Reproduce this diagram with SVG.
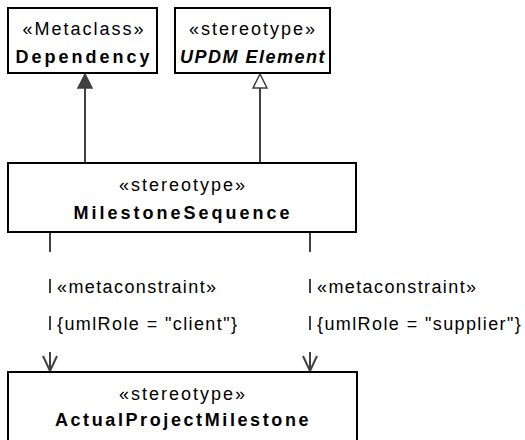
<svg xmlns="http://www.w3.org/2000/svg" width="525" height="440" viewBox="0 0 525 440">
  <style>
    .box { fill: #ffffff; stroke: #000000; stroke-width: 2; }
    .st { font-family: "Liberation Sans", Arial, sans-serif; font-size: 18px; letter-spacing: 2px; fill: #000000; text-anchor: middle; }
    .nm { font-family: "Liberation Sans", Arial, sans-serif; font-size: 18px; font-weight: bold; letter-spacing: 3px; fill: #000000; text-anchor: middle; }
    .it { font-style: italic; letter-spacing: 1.5px; }
    .long { letter-spacing: 2.6px; }
    .lbl { font-family: "Liberation Sans", Arial, sans-serif; font-size: 18px; letter-spacing: 1.4px; fill: #000000; }
    .ln { stroke: #404040; stroke-width: 2; fill: none; }
    .solid { fill: #404040; stroke: #404040; stroke-width: 1.5; }
    .hollow { fill: #ffffff; stroke: #404040; stroke-width: 1.5; }
  </style>

  <!-- Connectors -->
  <g id="connectors">
    <!-- MilestoneSequence to Dependency (extension, filled head) -->
    <line class="ln" x1="85" y1="88" x2="85" y2="163"/>
    <polygon class="solid" points="85,74 78,88 92,88"/>
    <!-- MilestoneSequence to UPDM Element (generalization, hollow head) -->
    <line class="ln" x1="260" y1="88" x2="260" y2="163"/>
    <polygon class="hollow" points="260,74 253,88 267,88"/>

    <!-- client dependency -->
    <line class="ln" x1="50" y1="232" x2="50" y2="252"/>
    <line class="ln" x1="50" y1="279" x2="50" y2="293"/>
    <line class="ln" x1="50" y1="316" x2="50" y2="330"/>
    <line class="ln" x1="50" y1="352" x2="50" y2="372"/>
    <polyline class="ln" points="43,356 50,371 57,356" stroke-width="1.6"/>
    <text class="lbl" x="57" y="293">«metaconstraint»</text>
    <text class="lbl" x="57" y="330">{umlRole = "client"}</text>

    <!-- supplier dependency -->
    <line class="ln" x1="310" y1="232" x2="310" y2="252"/>
    <line class="ln" x1="310" y1="279" x2="310" y2="293"/>
    <line class="ln" x1="310" y1="316" x2="310" y2="330"/>
    <line class="ln" x1="310" y1="352" x2="310" y2="372"/>
    <polyline class="ln" points="303,356 310,371 317,356" stroke-width="1.6"/>
    <text class="lbl" x="317" y="293">«metaconstraint»</text>
    <text class="lbl" x="317" y="330">{umlRole = "supplier"}</text>
  </g>

  <!-- Nodes -->
  <g id="dependency">
    <rect class="box" x="8" y="8" width="149" height="65"/>
    <text class="st" x="84" y="35">«Metaclass»</text>
    <text class="nm" x="84" y="63">Dependency</text>
  </g>

  <g id="updm-element">
    <rect class="box" x="175" y="8" width="155" height="65"/>
    <text class="st" x="253" y="35">«stereotype»</text>
    <text class="nm it" x="253" y="63">UPDM Element</text>
  </g>

  <g id="milestone-sequence">
    <rect class="box" x="8" y="163" width="348" height="69"/>
    <text class="st" x="183" y="191">«stereotype»</text>
    <text class="nm" x="183" y="219">MilestoneSequence</text>
  </g>

  <g id="actual-project-milestone">
    <rect class="box" x="8" y="372" width="349" height="80"/>
    <text class="st" x="183" y="400">«stereotype»</text>
    <text class="nm long" x="183" y="426">ActualProjectMilestone</text>
  </g>
</svg>
